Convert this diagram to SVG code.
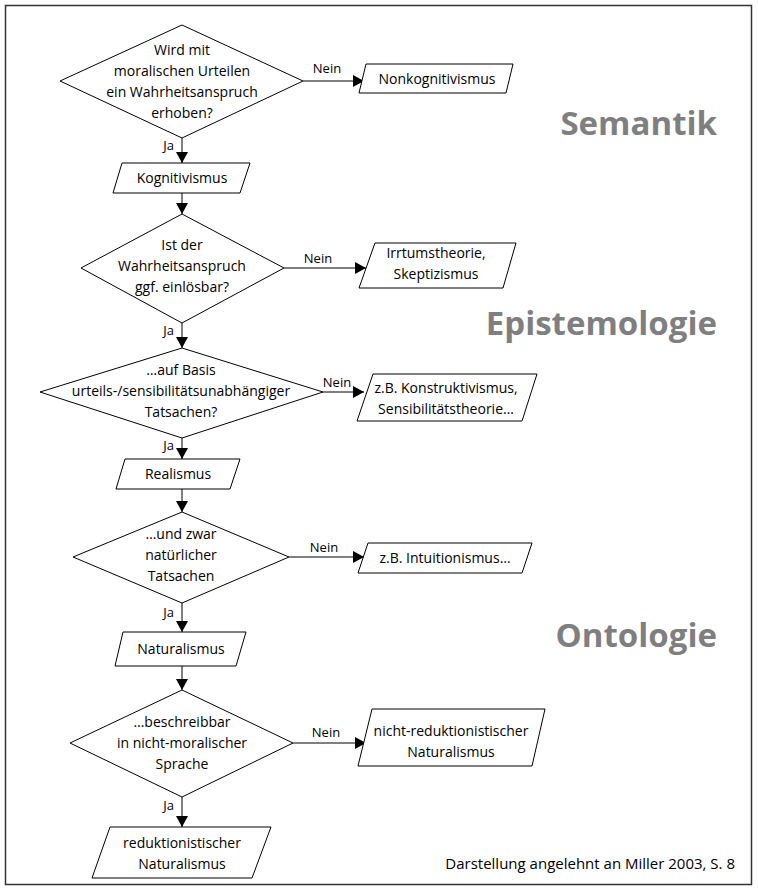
<svg xmlns="http://www.w3.org/2000/svg" width="758" height="891" viewBox="0 0 758 891">
<defs>
<marker id="ah" markerUnits="userSpaceOnUse" markerWidth="12" markerHeight="12" refX="11" refY="6" orient="auto">
<path d="M0,0 L11,6 L0,12 Z" fill="#000"/>
</marker>
<style>
.shape{fill:#fff;stroke:#000;stroke-width:1}
.t{font-family:"Open Sans","Liberation Sans",sans-serif;font-size:14px;fill:#000;text-anchor:middle}
.lab{font-family:"Open Sans","Liberation Sans",sans-serif;font-size:13px;fill:#000}
.sec{font-family:"Open Sans","Liberation Sans",sans-serif;font-size:33px;font-weight:bold;fill:#7f7f7f;text-anchor:end}
.con{stroke:#000;stroke-width:1;fill:none;marker-end:url(#ah)}
</style>
</defs>
<rect x="5.5" y="5.5" width="746" height="879" fill="#fff" stroke="#333" stroke-width="1.5"/>

<g id="connectors">
<line class="con" x1="303" y1="81" x2="364" y2="81"/>
<line class="con" x1="182" y1="138" x2="182" y2="163"/>
<line class="con" x1="182" y1="193" x2="182" y2="214"/>
<line class="con" x1="284" y1="268" x2="366" y2="268"/>
<line class="con" x1="182" y1="323" x2="182" y2="348"/>
<line class="con" x1="323" y1="392" x2="364" y2="392"/>
<line class="con" x1="182" y1="438" x2="182" y2="459"/>
<line class="con" x1="182" y1="489" x2="182" y2="512"/>
<line class="con" x1="289" y1="557" x2="364" y2="557"/>
<line class="con" x1="182" y1="603" x2="182" y2="632"/>
<line class="con" x1="182" y1="666" x2="182" y2="690"/>
<line class="con" x1="293" y1="743" x2="366" y2="743"/>
<line class="con" x1="182" y1="797" x2="182" y2="827"/>
<text class="lab" x="327" y="73" text-anchor="middle">Nein</text>
<text class="lab" x="318" y="263" text-anchor="middle">Nein</text>
<text class="lab" x="337" y="387" text-anchor="middle">Nein</text>
<text class="lab" x="324" y="552" text-anchor="middle">Nein</text>
<text class="lab" x="326" y="737" text-anchor="middle">Nein</text>
<text class="lab" x="174" y="150" text-anchor="end">Ja</text>
<text class="lab" x="174" y="335" text-anchor="end">Ja</text>
<text class="lab" x="174" y="450" text-anchor="end">Ja</text>
<text class="lab" x="174" y="617" text-anchor="end">Ja</text>
<text class="lab" x="174" y="810" text-anchor="end">Ja</text>
</g>

<g id="d1">
<polygon class="shape" points="182,25 303,81 182,138 60,81"/>
<text class="t" x="182" y="55">Wird mit</text>
<text class="t" x="182" y="76">moralischen Urteilen</text>
<text class="t" x="182" y="97">ein Wahrheitsanspruch</text>
<text class="t" x="182" y="118">erhoben?</text>
</g>
<g id="nonkog">
<polygon class="shape" points="366,64 513,64 506,93 359,93"/>
<text class="t" x="437" y="84">Nonkognitivismus</text>
</g>
<g id="kog">
<polygon class="shape" points="122,163 250,163 240,193 113,193"/>
<text class="t" x="182" y="183">Kognitivismus</text>
</g>
<g id="d2">
<polygon class="shape" points="182,214 284,268 182,323 81,268"/>
<text class="t" x="182" y="250">Ist der</text>
<text class="t" x="182" y="271">Wahrheitsanspruch</text>
<text class="t" x="182" y="292">ggf. einlösbar?</text>
</g>
<g id="irrtum">
<polygon class="shape" points="375,243 516,243 503,288 359,288"/>
<text class="t" x="436" y="258">Irrtumstheorie,</text>
<text class="t" x="436" y="279">Skeptizismus</text>
</g>
<g id="d3">
<polygon class="shape" points="182,348 323,392 182,438 40,392"/>
<text class="t" x="181" y="375">…auf Basis</text>
<text class="t" x="181" y="396">urteils-/sensibilitätsunabhängiger</text>
<text class="t" x="181" y="417">Tatsachen?</text>
</g>
<g id="konstr">
<polygon class="shape" points="373,374 537,374 522,421 357,421"/>
<text class="t" x="446" y="393">z.B. Konstruktivismus,</text>
<text class="t" x="446" y="414">Sensibilitätstheorie…</text>
</g>
<g id="realismus">
<polygon class="shape" points="125,459 240,459 230,489 116,489"/>
<text class="t" x="178" y="479">Realismus</text>
</g>
<g id="d4">
<polygon class="shape" points="182,512 289,557 182,603 73,557"/>
<text class="t" x="181" y="539">…und zwar</text>
<text class="t" x="181" y="560">natürlicher</text>
<text class="t" x="181" y="581">Tatsachen</text>
</g>
<g id="intuit">
<polygon class="shape" points="368,543 532,543 522,573 358,573"/>
<text class="t" x="445" y="563">z.B. Intuitionismus…</text>
</g>
<g id="natur">
<polygon class="shape" points="123,632 246,632 236,666 115,666"/>
<text class="t" x="181" y="654">Naturalismus</text>
</g>
<g id="d5">
<polygon class="shape" points="182,690 293,743 182,797 70,743"/>
<text class="t" x="182" y="727">…beschreibbar</text>
<text class="t" x="182" y="748">in nicht-moralischer</text>
<text class="t" x="182" y="769">Sprache</text>
</g>
<g id="nichtred">
<polygon class="shape" points="372,709 545,709 532,766 358,766"/>
<text class="t" x="451" y="736">nicht-reduktionistischer</text>
<text class="t" x="451" y="757">Naturalismus</text>
</g>
<g id="red">
<polygon class="shape" points="110,827 271,827 252,878 92,878"/>
<text class="t" x="182" y="848">reduktionistischer</text>
<text class="t" x="182" y="869">Naturalismus</text>
</g>

<g id="sections">
<text class="sec" x="717" y="135">Semantik</text>
<text class="sec" x="717" y="335">Epistemologie</text>
<text class="sec" x="717" y="647">Ontologie</text>
</g>
<text class="lab" x="735" y="869" text-anchor="end" style="font-size:15px">Darstellung angelehnt an Miller 2003, S. 8</text>
</svg>
